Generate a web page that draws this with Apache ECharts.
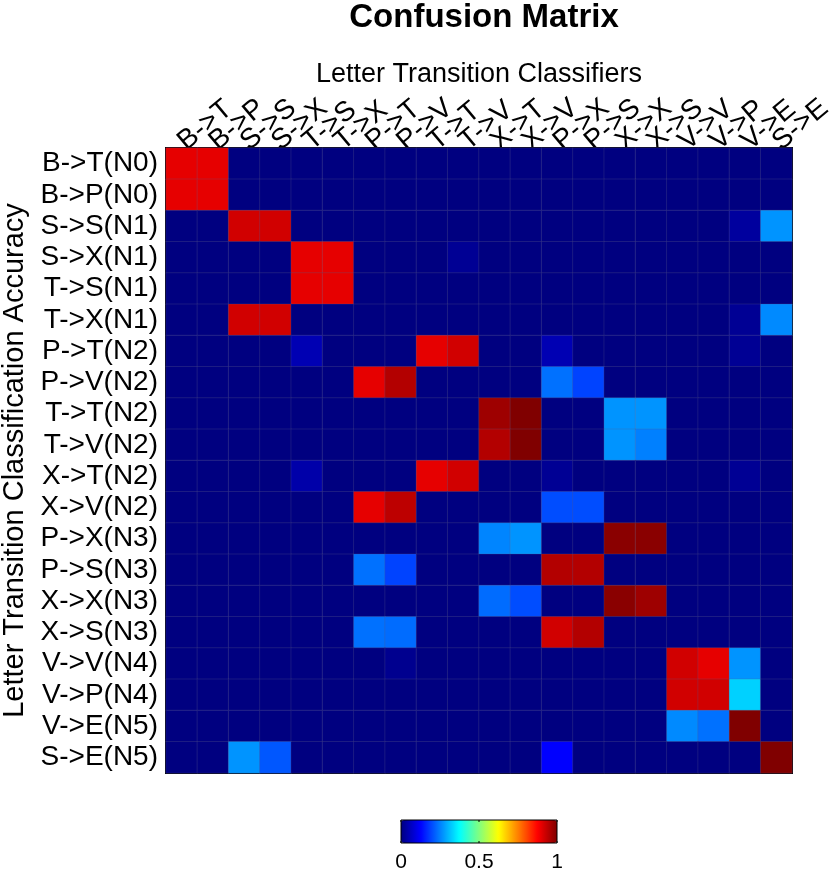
<!DOCTYPE html>
<html>
<head>
<meta charset="utf-8">
<script src="https://cdn.jsdelivr.net/npm/echarts@6/dist/echarts.min.js"></script>
<style>
  html, body { margin: 0; padding: 0; background: #fff; }
  #chart { width: 835px; height: 873px; }
</style>
</head>
<body>
<div id="chart"></div>
<script>
// Column classifiers (top axis) and row classes (left axis)
const classifiers = ['B->T', 'B->P', 'S->S', 'S->X', 'T->S', 'T->X', 'P->T', 'P->V', 'T->T', 'T->V',
    'X->T', 'X->V', 'P->X', 'P->S', 'X->X', 'X->S', 'V->V', 'V->P', 'V->E', 'S->E'];
const transitions = ['B->T(N0)', 'B->P(N0)', 'S->S(N1)', 'S->X(N1)', 'T->S(N1)', 'T->X(N1)',
    'P->T(N2)', 'P->V(N2)', 'T->T(N2)', 'T->V(N2)', 'X->T(N2)', 'X->V(N2)',
    'P->X(N3)', 'P->S(N3)', 'X->X(N3)', 'X->S(N3)', 'V->V(N4)', 'V->P(N4)', 'V->E(N5)', 'S->E(N5)'];

// One row of accuracies per transition
const rowBT = [0.90, 0.90, 0, 0, 0, 0, 0, 0, 0, 0, 0, 0, 0, 0, 0, 0, 0, 0, 0, 0];
const rowBP = [0.90, 0.90, 0, 0, 0, 0, 0, 0, 0, 0, 0, 0, 0, 0, 0, 0, 0, 0, 0, 0];
const rowSS = [0, 0, 0.92, 0.92, 0, 0, 0, 0, 0, 0, 0, 0, 0, 0, 0, 0, 0, 0, 0.03, 0.27];
const rowSX = [0, 0, 0, 0, 0.90, 0.90, 0, 0, 0, 0.02, 0, 0, 0, 0, 0, 0, 0, 0, 0, 0];
const rowTS = [0, 0, 0, 0, 0.90, 0.90, 0, 0, 0, 0, 0, 0, 0, 0, 0, 0, 0, 0, 0, 0];
const rowTX = [0, 0, 0.92, 0.92, 0, 0, 0, 0, 0, 0, 0, 0, 0, 0, 0, 0, 0, 0, 0.02, 0.26];
const rowPT = [0, 0, 0, 0, 0.05, 0, 0, 0, 0.90, 0.92, 0, 0, 0.05, 0, 0, 0, 0, 0, 0.02, 0];
const rowPV = [0, 0, 0, 0, 0, 0, 0.90, 0.95, 0, 0, 0, 0, 0.235, 0.19, 0, 0, 0, 0, 0, 0];
const rowTT = [0, 0, 0, 0, 0, 0, 0, 0, 0, 0, 0.97, 1.00, 0, 0, 0.27, 0.27, 0, 0, 0, 0];
const rowTV = [0, 0, 0, 0, 0, 0, 0, 0, 0, 0, 0.95, 1.00, 0, 0, 0.27, 0.25, 0, 0, 0, 0];
const rowXT = [0, 0, 0, 0, 0.04, 0, 0, 0, 0.90, 0.92, 0, 0, 0.02, 0, 0, 0, 0, 0, 0.02, 0];
const rowXV = [0, 0, 0, 0, 0, 0, 0.90, 0.94, 0, 0, 0, 0, 0.20, 0.20, 0, 0, 0, 0, 0, 0];
const rowPX = [0, 0, 0, 0, 0, 0, 0, 0, 0, 0, 0.255, 0.27, 0, 0, 0.99, 0.99, 0, 0, 0, 0];
const rowPS = [0, 0, 0, 0, 0, 0, 0.235, 0.19, 0, 0, 0, 0, 0.95, 0.95, 0, 0, 0, 0, 0, 0];
const rowXX = [0, 0, 0, 0, 0, 0, 0, 0, 0, 0, 0.23, 0.20, 0, 0, 0.99, 0.97, 0, 0, 0, 0];
const rowXS = [0, 0, 0, 0, 0, 0, 0.235, 0.23, 0, 0, 0, 0, 0.92, 0.95, 0, 0, 0, 0, 0, 0];
const rowVV = [0, 0, 0, 0, 0, 0, 0, 0.015, 0, 0, 0, 0, 0, 0, 0, 0, 0.92, 0.90, 0.27, 0];
const rowVP = [0, 0, 0, 0, 0, 0, 0, 0, 0, 0, 0, 0, 0, 0, 0, 0, 0.92, 0.92, 0.33, 0];
const rowVE = [0, 0, 0, 0, 0, 0, 0, 0, 0, 0, 0, 0, 0, 0, 0, 0, 0.26, 0.235, 1.00, 0];
const rowSE = [0, 0, 0.27, 0.21, 0, 0, 0, 0, 0, 0, 0, 0, 0.125, 0, 0, 0, 0, 0, 0, 1.00];

const matrix = [rowBT, rowBP, rowSS, rowSX, rowTS, rowTX, rowPT, rowPV, rowTT, rowTV,
    rowXT, rowXV, rowPX, rowPS, rowXX, rowXS, rowVV, rowVP, rowVE, rowSE];

const colorTicks = ['0', '0.5', '1'];

// jet colormap, evenly spaced stops
const jet = ['#000080', '#0000FF', '#0080FF', '#00FFFF', '#80FF80', '#FFFF00', '#FF8000', '#FF0000', '#800000'];

const heatData = [];
matrix.forEach((row, r) => row.forEach((v, c) => heatData.push([c, r, v])));

const font = 'Liberation Sans, Arial, sans-serif';
const chart = echarts.init(document.getElementById('chart'));

// colorbar geometry
const cbLeft = 401, cbTop = 820, cbW = 156, cbH = 23;
const tickX = i => cbLeft + (cbW * i) / (colorTicks.length - 1);

chart.setOption({
    backgroundColor: '#fff',
    animation: false,
    title: {
        text: 'Confusion Matrix',
        left: 479,
        top: -4,
        textAlign: 'center',
        textStyle: { fontFamily: font, fontSize: 33, fontWeight: 'bold', color: '#000' }
    },
    grid: {
        left: 166, right: 43, top: 148, bottom: 100,
        outerBoundsMode: 'none',
        show: true, borderColor: '#000', borderWidth: 2, backgroundColor: 'transparent'
    },
    xAxis: {
        type: 'category',
        data: classifiers,
        position: 'top',
        name: 'Letter Transition Classifiers',
        nameLocation: 'middle',
        nameGap: 60,
        nameMoveOverlap: false,
        nameTextStyle: { fontFamily: font, fontSize: 27, color: '#000' },
        axisLine: { show: true, lineStyle: { color: '#000', width: 2 } },
        axisTick: { show: false },
        axisLabel: { interval: 0, rotate: -40, fontFamily: font, fontSize: 28, color: '#000', margin: 3 },
        splitLine: { show: false }
    },
    yAxis: {
        type: 'category',
        data: transitions,
        inverse: true,
        name: 'Letter Transition Classification Accuracy',
        nameLocation: 'middle',
        nameGap: 137,
        nameMoveOverlap: false,
        nameTextStyle: { fontFamily: font, fontSize: 29, color: '#000' },
        axisLine: { show: true, lineStyle: { color: '#000', width: 2 } },
        axisTick: { show: false },
        axisLabel: { interval: 0, fontFamily: font, fontSize: 28, color: '#000', margin: 8 },
        splitLine: { show: false }
    },
    visualMap: {
        type: 'continuous',
        min: 0,
        max: 1,
        orient: 'horizontal',
        left: cbLeft,
        top: cbTop,
        padding: 0,
        itemWidth: cbH,
        itemHeight: cbW,
        calculable: false,
        showLabel: false,
        text: null,
        realtime: false,
        inRange: { color: jet }
    },
    graphic: [
        {
            type: 'rect',
            shape: { x: cbLeft, y: cbTop, width: cbW, height: cbH },
            style: { fill: 'transparent', stroke: '#000', lineWidth: 1 },
            z: 100
        },
        // little colorbar ticks, top and bottom edges
        ...colorTicks.flatMap((t, i) => [
            { type: 'line', shape: { x1: tickX(i), y1: cbTop, x2: tickX(i), y2: cbTop + 2 }, style: { stroke: '#000', lineWidth: 1 }, z: 100 },
            { type: 'line', shape: { x1: tickX(i), y1: cbTop + cbH - 2, x2: tickX(i), y2: cbTop + cbH }, style: { stroke: '#000', lineWidth: 1 }, z: 100 }
        ]),
        ...colorTicks.map((t, i) => ({
            type: 'text',
            x: tickX(i),
            y: cbTop + cbH + 9,
            style: { text: t, fontFamily: font, fontSize: 21, fill: '#000', align: 'center', verticalAlign: 'top' },
            z: 100
        }))
    ],
    series: [{
        type: 'heatmap',
        data: heatData,
        itemStyle: { borderColor: 'rgba(90,90,140,0.45)', borderWidth: 0.6 },
        emphasis: { disabled: true }
    }]
});
</script>
</body>
</html>
